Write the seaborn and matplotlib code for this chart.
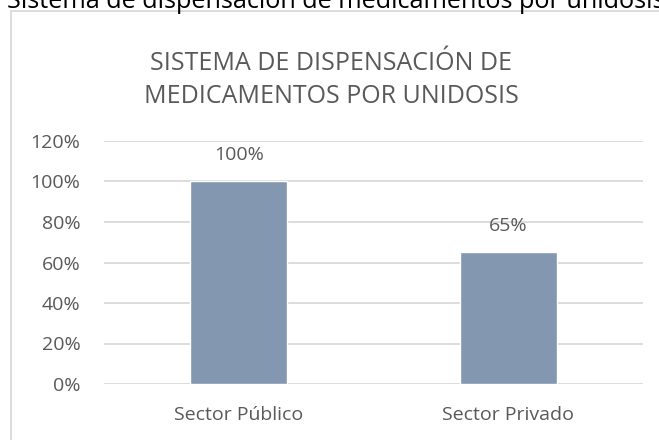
import matplotlib
matplotlib.use("Agg")
import matplotlib.pyplot as plt
import seaborn as sns
import pandas as pd
from matplotlib.patches import Rectangle

categories = ["Sector Público", "Sector Privado"]
values = [1.00, 0.65]
value_labels = ["100%", "65%"]
yticks = [0, 0.2, 0.4, 0.6, 0.8, 1.0, 1.2]
ytick_labels = ["0%", "20%", "40%", "60%", "80%", "100%", "120%"]
title_lines = ["SISTEMA DE DISPENSACIÓN DE", "MEDICAMENTOS POR UNIDOSIS"]
outer_text = "Sistema de dispensación de medicamentos por unidosis"

sns.set_style("white")
plt.rcParams["font.family"] = ["Open Sans", "DejaVu Sans"]

W, H = 659, 440
fig = plt.figure(figsize=(W / 100, H / 100), dpi=100)

def fx(px):
    return px / W

def fy(py):
    return 1 - py / H

# outer frame (left and top edges visible)
fig.patches.append(Rectangle((fx(11), fy(460)), fx(700), fy(11) - fy(460),
                             transform=fig.transFigure, fill=False,
                             edgecolor="#d9d9d9", linewidth=1.3, zorder=0))

# cut-off caption above the frame
fig.text(fx(7), fy(8), outer_text, fontsize=18.2, color="#000000",
         ha="left", va="baseline")

ax = fig.add_axes([fx(104), fy(384), fx(643) - fx(104), fy(141) - fy(384)])
df = pd.DataFrame({"cat": categories, "val": values})
sns.barplot(data=df, x="cat", y="val", ax=ax, color="#8497b0", width=0.36,
            saturation=1, zorder=3)

ax.set_ylim(0, 1.2)
ax.set_yticks(yticks)
ax.set_yticklabels(ytick_labels)
ax.yaxis.grid(True, color="#d9d9d9", linewidth=1.3, zorder=0)
ax.set_axisbelow(True)
for s in ax.spines.values():
    s.set_visible(False)
ax.tick_params(axis="both", length=0, labelsize=14, colors="#595959")
ax.tick_params(axis="y", pad=17)
ax.tick_params(axis="x", pad=16)
ax.set_xlabel("")
ax.set_ylabel("")

for i, (v, lab) in enumerate(zip(values, value_labels)):
    ax.annotate(lab, (i, v), xytext=(0, 17), textcoords="offset pixels",
                ha="center", va="bottom", fontsize=14, color="#595959")

fig.text(fx(331), fy(70), title_lines[0], ha="center",
         va="baseline", fontsize=18, color="#595959")
fig.text(fx(331), fy(103), title_lines[1], ha="center",
         va="baseline", fontsize=18, color="#595959")

fig.savefig("out.png", dpi=100)
